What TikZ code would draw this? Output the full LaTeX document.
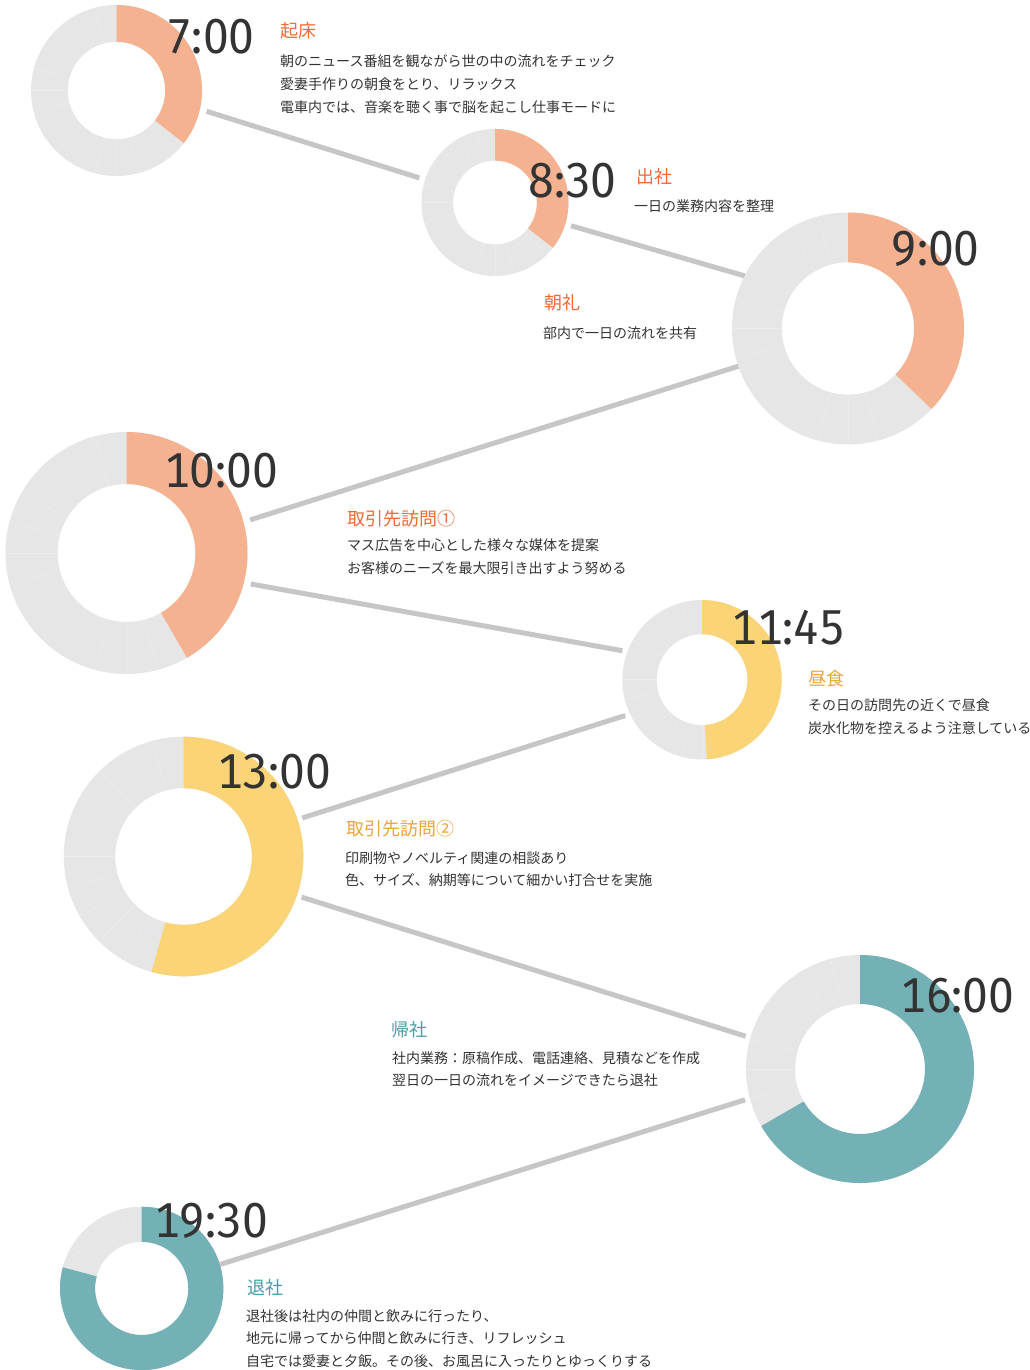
\documentclass[tikz,border=0pt]{standalone}
\usepackage{fontspec}
\newfontfamily\jpfont{Noto Sans CJK JP}
\newfontfamily\timefont[Numbers={Monospaced,Lining}, FakeStretch=0.94]{Fira Sans}
\usetikzlibrary{calc}

\definecolor{ringgray}{HTML}{E5E6E5}
\definecolor{ringline}{HTML}{EBECEB}
\definecolor{peach}{HTML}{F5B291}
\definecolor{sun}{HTML}{FBD477}
\definecolor{teal}{HTML}{74B1B7}
\definecolor{linkgray}{HTML}{C6C6C6}
\definecolor{inkdark}{HTML}{333333}
\definecolor{headorange}{HTML}{F06A35}
\definecolor{headgold}{HTML}{E9A63A}
\definecolor{headteal}{HTML}{4A9EA6}

\tikzset{
  hub/.style={circle, inner sep=0pt, outer sep=0pt},
  link/.style={draw=linkgray, line width=5pt},
  sepline/.style={draw=ringline, line width=0.6pt},
  timelabel/.style={font=\timefont\fontsize{49}{49}\selectfont, text=inkdark, inner sep=0pt, anchor=base west},
  heading/.style={font=\jpfont\fontsize{18}{18}\selectfont, inner sep=0pt, anchor=base west},
  body/.style={font=\jpfont\fontsize{14}{14}\selectfont, text=inkdark, inner sep=0pt, anchor=base west}
}

% name, x, y, outer radius, end angle, colour, gap
\newcommand{\donut}[7]{%
  \pgfmathsetmacro{\ri}{0.57*#4}
  \pgfmathsetmacro{\ea}{-(#5)}
  \pgfmathsetmacro{\lim}{90-(#5)+3}
  \fill[ringgray, even odd rule] (#2,#3) circle[radius=#4] (#2,#3) circle[radius=\ri];
  \foreach \k in {1,...,23} {
    \pgfmathsetmacro{\off}{15*\k}
    \ifdim\off pt>\lim pt
      \draw[sepline] ($(#2,#3)+(\off-90:\ri)$) -- ($(#2,#3)+(\off-90:#4)$);
    \fi
  }
  \fill[#6] (#2,#3) ++(-90:#4) arc[start angle=-90, end angle=\ea, radius=#4]
    -- ($(#2,#3)+(\ea:\ri)$) arc[start angle=\ea, end angle=-90, radius=\ri] -- cycle;
  \node[hub, minimum size={2*(#4+#7)}] (#1) at (#2,#3) {};
}

\begin{document}
\begin{tikzpicture}[x=1pt, y=-1pt]
  \fill[white] (0,0) rectangle (1030,1370);
  \useasboundingbox (0,0) rectangle (1030,1370);

  % rings
  \donut{d1}{116.5}{90.5}{85.5}{-38}{peach}{7}
  \donut{d2}{495}{202.5}{73.5}{-38}{peach}{6}
  \donut{d3}{848}{328.5}{116}{-44}{peach}{0}
  \donut{d4}{126.5}{553}{121}{-60}{peach}{7}
  \donut{d5}{702}{679.7}{79.7}{-86.5}{sun}{5}
  \donut{d6}{183.6}{856.5}{119.8}{-105.5}{sun}{5}
  \donut{d7}{860}{1069}{114}{-150}{teal}{5}
  \donut{d8}{141.7}{1288.4}{81.7}{-195}{teal}{0}

  % links
  \draw[link] (d1.-13) -- (d2.162);
  \draw[link] (d2.-17) -- (d3.153);
  \draw[link] (d3.-161) -- (d4.15);
  \draw[link] (d4.-14) -- (d5.160);
  \draw[link] (d5.-155) -- (d6.18);
  \draw[link] (d6.-19) -- (d7.164);
  \draw[link] (d7.-165) -- (d8.17);

  % times
  \node[timelabel] (t1) at (166,54) {7:00};
  \node[timelabel] (t2) at (528,197) {8:30};
  \node[timelabel] (t3) at (891,265) {9:00};
  \node[timelabel] (t4) at (164,487) {10:00};
  \node[timelabel] (t5) at (731,644) {11:45};
  \node[timelabel] (t6) at (217,788) {13:00};
  \node[timelabel] (t7) at (900,1012) {16:00};
  \node[timelabel] (t8) at (154,1237) {19:30};

  % 7:00
  \node[heading, text=headorange] (h1) at (280,38) {起床};
  \node[body] (b1a) at (280,67) {朝のニュース番組を観ながら世の中の流れをチェック};
  \node[body] (b1b) at (280,90) {愛妻手作りの朝食をとり、リラックス};
  \node[body] (b1c) at (280,113) {電車内では、音楽を聴く事で脳を起こし仕事モードに};

  % 8:30
  \node[heading, text=headorange] (h2) at (636,183) {出社};
  \node[body] (b2a) at (634,211) {一日の業務内容を整理};

  % 9:00
  \node[heading, text=headorange] (h3) at (544,309) {朝礼};
  \node[body] (b3a) at (543,338) {部内で一日の流れを共有};

  % 10:00
  \node[heading, text=headorange] (h4) at (347,525) {取引先訪問①};
  \node[body] (b4a) at (347,550) {マス広告を中心とした様々な媒体を提案};
  \node[body] (b4b) at (347,573) {お客様のニーズを最大限引き出すよう努める};

  % 11:45
  \node[heading, text=headgold] (h5) at (808,685) {昼食};
  \node[body] (b5a) at (808,710) {その日の訪問先の近くで昼食};
  \node[body] (b5b) at (808,733) {炭水化物を控えるよう注意している};

  % 13:00
  \node[heading, text=headgold] (h6) at (346,835) {取引先訪問②};
  \node[body] (b6a) at (345,863) {印刷物やノベルティ関連の相談あり};
  \node[body] (b6b) at (345,885) {色、サイズ、納期等について細かい打合せを実施};

  % 16:00
  \node[heading, text=headteal] (h7) at (391,1036) {帰社};
  \node[body] (b7a) at (392,1063) {社内業務：原稿作成、電話連絡、見積などを作成};
  \node[body] (b7b) at (392,1085) {翌日の一日の流れをイメージできたら退社};

  % 19:30
  \node[heading, text=headteal] (h8) at (247,1294) {退社};
  \node[body] (b8a) at (246,1321) {退社後は社内の仲間と飲みに行ったり、};
  \node[body] (b8b) at (246,1343) {地元に帰ってから仲間と飲みに行き、リフレッシュ};
  \node[body] (b8c) at (246,1366) {自宅では愛妻と夕飯。その後、お風呂に入ったりとゆっくりする};
\end{tikzpicture}
\end{document}
